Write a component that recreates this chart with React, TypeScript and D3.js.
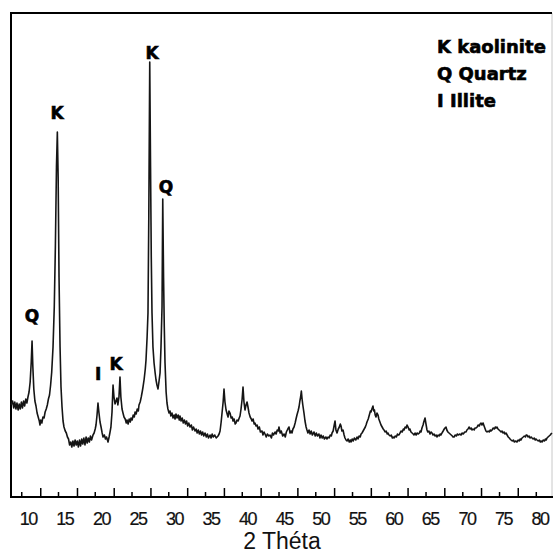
import React from "react";
import * as d3 from "d3";

const twoTheta: number[] = [
7.65,7.85,8.0,8.15,8.3,8.45,8.6,8.75,8.9,9.05,9.2,9.35,9.5,9.65,9.8,9.95,10.1,10.25,10.4,10.51,10.62,10.75,10.9,11.05,11.2,11.35,11.5,11.6,11.7,11.85,12.0,12.15,12.3,12.45,12.6,12.75,12.9,13.05,13.2,13.38,13.55,13.7,13.85,13.97,14.08,14.2,14.34,14.47,14.61,14.75,14.88,15.05,15.2,15.35,15.5,15.65,15.8,15.95,16.1,16.25,16.4,16.55,16.7,16.85,17.0,17.15,17.3,17.45,17.6,17.75,17.9,18.05,18.2,18.35,18.5,18.65,18.85,19.0,19.15,19.26,19.4,19.53,19.65,19.81,19.95,20.1,20.22,20.4,20.55,20.7,20.9,21.05,21.18,21.3,21.45,21.59,21.72,21.86,22.0,22.13,22.25,22.4,22.54,22.66,22.82,22.95,23.09,23.25,23.4,23.5,23.65,23.8,23.95,24.05,24.2,24.35,24.5,24.6,24.75,24.9,25.05,25.14,25.3,25.45,25.6,25.69,25.85,26.0,26.1,26.25,26.37,26.48,26.61,26.72,26.82,26.92,27.05,27.2,27.35,27.47,27.6,27.74,27.85,28.02,28.15,28.29,28.39,28.5,28.6,28.7,28.85,28.97,29.1,29.25,29.38,29.5,29.65,29.8,29.95,30.07,30.2,30.35,30.5,30.65,30.75,30.9,31.05,31.2,31.35,31.5,31.65,31.8,31.95,32.12,32.3,32.45,32.6,32.81,32.95,33.1,33.25,33.4,33.55,33.7,33.85,34.0,34.17,34.35,34.5,34.65,34.86,35.0,35.15,35.3,35.5,35.7,35.95,36.1,36.23,36.38,36.5,36.65,36.77,36.9,37.05,37.2,37.32,37.45,37.59,37.75,37.9,38.0,38.15,38.3,38.41,38.55,38.7,38.85,38.96,39.1,39.25,39.37,39.5,39.64,39.78,39.92,40.05,40.19,40.35,40.5,40.6,40.75,40.9,41.01,41.15,41.3,41.42,41.6,41.75,41.97,42.1,42.25,42.38,42.55,42.7,42.9,43.06,43.25,43.4,43.55,43.75,43.9,44.05,44.2,44.29,44.45,44.6,44.8,44.98,45.15,45.3,45.5,45.66,45.8,45.95,46.07,46.2,46.35,46.5,46.62,46.75,46.9,47.03,47.15,47.25,47.35,47.45,47.55,47.71,47.85,48.0,48.12,48.25,48.4,48.55,48.7,48.85,49.08,49.25,49.4,49.55,49.75,49.9,50.04,50.2,50.35,50.5,50.7,50.86,51.0,51.15,51.3,51.45,51.55,51.7,51.85,51.96,52.08,52.23,52.4,52.55,52.68,52.78,52.9,53.05,53.2,53.32,53.46,53.6,53.75,53.9,54.05,54.15,54.3,54.45,54.6,54.8,54.97,55.1,55.25,55.4,55.52,55.65,55.8,55.95,56.1,56.2,56.33,56.5,56.65,56.8,56.88,57.0,57.15,57.25,57.35,57.45,57.56,57.7,57.84,57.95,58.1,58.25,58.4,58.55,58.66,58.8,58.95,59.1,59.2,59.34,59.5,59.65,59.8,59.9,60.03,60.2,60.35,60.5,60.6,60.71,60.85,61.0,61.15,61.3,61.4,61.55,61.7,61.81,61.95,62.1,62.2,62.35,62.5,62.65,62.76,62.9,63.05,63.2,63.35,63.5,63.6,63.72,63.85,64.0,64.1,64.27,64.4,64.54,64.65,64.8,64.95,65.1,65.23,65.35,65.5,65.65,65.8,65.91,66.05,66.2,66.35,66.45,66.59,66.75,66.9,67.0,67.14,67.25,67.4,67.55,67.7,67.85,68.0,68.1,68.24,68.4,68.55,68.7,68.85,69.0,69.2,69.35,69.5,69.7,69.88,70.0,70.15,70.29,70.45,70.6,70.7,70.85,71.0,71.1,71.25,71.4,71.55,71.7,71.8,71.93,72.05,72.21,72.35,72.5,72.6,72.75,72.9,73.05,73.2,73.3,73.44,73.6,73.75,73.9,74.0,74.12,74.25,74.4,74.55,74.67,74.8,74.95,75.1,75.2,75.35,75.5,75.65,75.8,75.9,76.04,76.2,76.35,76.5,76.65,76.86,77.0,77.15,77.3,77.4,77.54,77.7,77.85,78.0,78.1,78.22,78.35,78.5,78.65,78.8,78.91,79.05,79.2,79.35,79.45,79.59,79.75,79.9,80.05,80.15,80.28,80.45,80.6,80.75,80.85,80.96,81.1,81.25,81.4,81.5,81.64
];

const counts: number[] = [
92,96,89,95,88,94,87,93,88,95,89,96,91,98,94,100,105,115,135,156,130,108,96,91,84,80,76,72,77,74,80,79,85,88,92,98,102,112,125,150,190,250,330,365,320,220,150,110,90,76,70,66,64,60,58,52,55,50,56,51,57,52,56,50,57,51,58,53,59,52,60,54,59,55,61,57,62,64,68,72,82,94,85,75,70,64,60,62,58,60,55,60,65,70,85,112,100,93,96,99,92,100,120,100,88,84,80,78,74,77,73,78,75,79,77,82,80,85,83,88,86,92,95,100,106,110,118,128,137,160,184,280,435,330,240,184,150,134,124,117,112,108,114,124,150,190,298,220,170,134,105,94,88,84,86,81,84,79,82,78,83,79,82,77,81,76,79,74,77,73,76,71,74,70,72,67,70,66,68,64,67,63,66,62,65,61,64,60,63,59,62,59,63,60,62,59,61,63,66,75,84,95,108,95,87,83,80,86,84,79,80,76,78,73,74,77,76,79,81,88,98,110,95,87,92,95,90,84,80,78,76,78,73,74,71,72,68,70,65,66,62,65,63,60,63,61,62,59,64,62,65,63,67,66,70,64,66,61,63,60,65,68,70,64,66,64,68,70,74,78,82,86,90,96,100,106,98,92,84,76,70,67,64,67,63,66,62,65,61,64,61,63,59,62,59,61,58,60,58,60,59,62,61,64,66,72,76,67,64,68,70,73,71,66,67,62,59,57,56,58,55,57,55,58,56,59,57,60,58,61,60,63,64,66,68,70,72,75,78,82,86,85,88,91,86,87,82,80,84,82,78,75,72,70,68,67,65,66,63,64,62,61,62,59,60,59,61,60,63,62,62,64,66,65,68,67,70,69,72,70,67,68,65,64,63,62,64,62,64,63,64,66,65,69,72,75,79,73,67,65,66,63,65,64,62,63,61,62,60,62,61,63,62,64,66,68,69,70,67,65,64,63,62,61,60,60,62,61,63,62,63,62,64,63,65,65,67,68,70,68,69,67,68,67,69,69,70,72,71,73,74,72,74,71,68,66,65,66,65,67,66,67,69,68,70,69,70,68,67,66,65,66,64,65,63,64,62,60,59,58,57,56,57,55,56,55,57,56,58,57,59,60,61,60,62,62,60,61,59,60,59,58,59,57,58,57,56,57,55,56,55,57,56,58,57,59,60,61,62,63,64
];

const tickLabels: number[] = [10, 15, 20, 25, 30, 35, 40, 45, 50, 55, 60, 65, 70, 75, 80];
const majorTicks: number[] = d3.range(14).map((i) => 11.7 + i * 5.025);
const minorTicks: number[] = d3.range(15).map((i) => 9.1 + i * 5.028);

const peakNames: string[] = ["Q", "K", "I", "K", "K", "Q"];
const peakTheta: number[] = [10.5, 13.93, 19.54, 22.0, 26.92, 28.84];
const peakLevel: number[] = [175, 378, 117, 127, 438, 304];

const legendItems: string[] = ["K kaolinite", "Q Quartz", "I Illite"];

const W = 554;
const H = 553;
const left = 11;
const right = 552;
const top = 13;
const bottom = 497;

export default function App() {
  const x = d3.scaleLinear().domain([7.63, 81.64]).range([left, right]);
  const y = d3.scaleLinear().domain([0, 484]).range([bottom, top]);
  const pts: [number, number][] = twoTheta.map((t, i) => [t, counts[i]]);
  const line = d3
    .line<[number, number]>()
    .x((d) => x(d[0]))
    .y((d) => y(d[1]));

  const boldFont = "'DejaVu Sans', sans-serif";
  const sansFont = "'Liberation Sans', Arial, sans-serif";

  return (
    <svg
      width={W}
      height={H}
      style={{ position: "absolute", left: 0, top: 0, background: "#fff" }}
    >
      <rect x={0} y={0} width={W} height={H} fill="#fff" />
      {/* frame */}
      <line x1={right} x2={right} y1={top} y2={bottom} stroke="#c8c8c8" strokeWidth={1} />
      <line x1={left - 1} x2={right} y1={top} y2={top} stroke="#000" strokeWidth={2} />
      <line x1={left} x2={left} y1={top - 1} y2={bottom + 1} stroke="#000" strokeWidth={2} />
      <line x1={left - 1} x2={right + 1} y1={bottom} y2={bottom} stroke="#000" strokeWidth={2} />

      {/* ticks */}
      {majorTicks.map((t, i) => (
        <line key={"M" + i} x1={x(t)} x2={x(t)} y1={bottom} y2={bottom - 9} stroke="#000" strokeWidth={1.5} />
      ))}
      {minorTicks.map((t, i) => (
        <line key={"m" + i} x1={x(t)} x2={x(t)} y1={bottom} y2={bottom - 5} stroke="#000" strokeWidth={1.5} />
      ))}
      {tickLabels.map((t) => (
        <text
          key={"l" + t}
          x={x(t)}
          y={525}
          textAnchor="middle"
          fontFamily={sansFont}
          fontSize={18}
          letterSpacing={-1.5}
          fill="#111"
          stroke="#111"
          strokeWidth={0.2}
        >
          {t}
        </text>
      ))}
      <text x={282} y={549} textAnchor="middle" fontFamily={sansFont} fontSize={23} fill="#111">
        2 Théta
      </text>

      {/* curve */}
      <path d={line(pts) || ""} fill="none" stroke="#151515" strokeWidth={1.6} strokeLinejoin="round" />

      {/* peak labels */}
      {peakNames.map((n, i) => (
        <text
          key={"p" + i}
          x={x(peakTheta[i])}
          y={y(peakLevel[i])}
          textAnchor="middle"
          fontFamily={boldFont}
          fontWeight="bold"
          fontSize={17}
          fill="#000"
          stroke="#000"
          strokeWidth={0.6}
        >
          {n}
        </text>
      ))}

      {/* legend */}
      {legendItems.map((s, i) => (
        <text
          key={"g" + i}
          x={437}
          y={53 + i * 27}
          fontFamily={boldFont}
          fontWeight="bold"
          fontSize={18}
          fill="#000"
          stroke="#000"
          strokeWidth={0.6}
        >
          {s}
        </text>
      ))}
    </svg>
  );
}
